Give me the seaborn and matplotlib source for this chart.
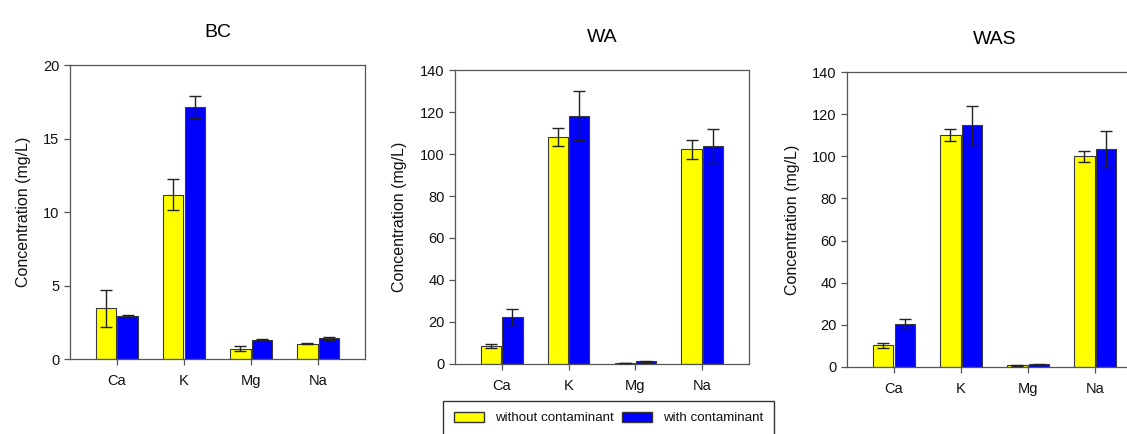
import matplotlib.pyplot as plt
import pandas as pd
import seaborn as sns
from matplotlib.patches import Patch

# values
elements = ['Ca', 'K', 'Mg', 'Na']
groups = ['without contaminant', 'with contaminant']

bc_without = [3.44, 11.17, 0.70, 1.04]
bc_without_err = [1.28, 1.06, 0.17, 0.03]
bc_with = [2.94, 17.17, 1.31, 1.40]
bc_with_err = [0.05, 0.75, 0.04, 0.13]

wa_without = [8.6, 108.2, 0.5, 102.3]
wa_without_err = [0.8, 4.4, 0.2, 4.5]
wa_with = [22.4, 118.2, 1.2, 103.9]
wa_with_err = [4.0, 11.7, 0.3, 8.2]

was_without = [10.3, 110.1, 0.9, 100.0]
was_without_err = [1.3, 2.7, 0.2, 2.7]
was_with = [20.6, 114.7, 1.2, 103.5]
was_with_err = [2.4, 9.2, 0.3, 8.5]

yellow = '#ffff00'
blue = '#0000ff'
spine_col = '#555555'

sns.set_style('ticks')
plt.rcParams['font.family'] = ['Liberation Sans', 'DejaVu Sans']

fig = plt.figure(figsize=(11.27, 4.34), dpi=100)

panels = [
    ('BC', bc_without, bc_without_err, bc_with, bc_with_err, 20, 5,
     [0.0621, 0.1728, 0.2618, 0.6774]),
    ('WA', wa_without, wa_without_err, wa_with, wa_with_err, 140, 20,
     [0.4037, 0.1613, 0.2609, 0.6774]),
    ('WAS', was_without, was_without_err, was_with, was_with_err, 140, 20,
     [0.7516, 0.1544, 0.2618, 0.6797]),
]

for title, v0, e0, v1, e1, ymax, step, rect in panels:
    ax = fig.add_axes(rect)
    df = pd.DataFrame({
        'element': elements * 2,
        'condition': [groups[0]] * 4 + [groups[1]] * 4,
        'value': v0 + v1,
    })
    sns.barplot(data=df, x='element', y='value', hue='condition',
                order=elements, hue_order=groups, palette=[yellow, blue],
                saturation=1, width=0.64, gap=0.05, edgecolor='#3a3a3a',
                linewidth=0.8, errorbar=None, legend=False, ax=ax)
    # error bars on top of each bar
    for cont, errs in zip(ax.containers, [e0, e1]):
        xs = [b.get_x() + b.get_width() / 2 for b in cont]
        ys = [b.get_height() for b in cont]
        ax.errorbar(xs, ys, yerr=errs, fmt='none', ecolor='#222222',
                    elinewidth=1, capsize=4, capthick=1, zorder=5)

    ax.set_xlim(-0.7, 3.7)
    ax.set_ylim(0, ymax)
    ax.set_yticks(range(0, ymax + 1, step))
    ax.set_xlabel('')
    ax.set_ylabel('Concentration (mg/L)', fontsize=11.5, color='#111111',
                  labelpad=9)
    ax.set_title(title, fontsize=14, pad=20, color='black')
    for s in ax.spines.values():
        s.set_visible(True)
        s.set_color(spine_col)
        s.set_linewidth(0.9)
    ax.tick_params(direction='out', length=4, width=0.9, color=spine_col,
                   labelsize=10.5, labelcolor='#111111')
    ax.tick_params(axis='x', pad=7)

handles = [Patch(facecolor=yellow, edgecolor='#333333', label=groups[0]),
           Patch(facecolor=blue, edgecolor='#333333', label=groups[1])]
leg = fig.legend(handles=handles, loc='upper left',
                 bbox_to_anchor=(443 / 1127, 1 - 401 / 434), ncol=2,
                 frameon=True, fancybox=False, edgecolor='black', fontsize=9.6,
                 handlelength=2.3, handleheight=0.8, handletextpad=0.8,
                 columnspacing=0.6, borderpad=0.8, borderaxespad=0)
leg.get_frame().set_linewidth(1)
for t in leg.get_texts():
    t.set_color('#111111')

fig.savefig('out.png', dpi=100)
